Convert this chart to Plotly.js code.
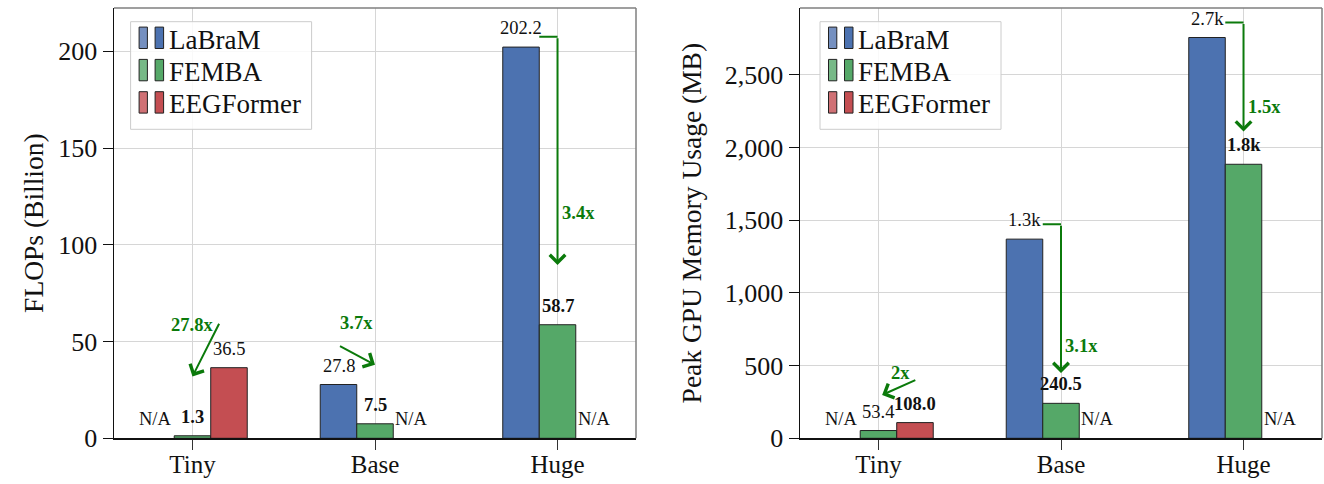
<!DOCTYPE html>
<html><head><meta charset="utf-8">
<script src="https://cdn.plot.ly/plotly-3.0.1.min.js"></script>
<style>html,body{margin:0;padding:0;background:#fff}#chart{width:1324px;height:484px}</style>
</head><body><div id="chart"></div>
<script>
// ---------------- data ----------------
const categories = ['Tiny', 'Base', 'Huge'];
const seriesNames = ['LaBraM', 'FEMBA', 'EEGFormer'];

const flopsLaBraM = [null, 27.8, 202.2];
const flopsFEMBA = [1.3, 7.5, 58.7];
const flopsEEGFormer = [36.5, null, null];

const memLaBraM = [null, 1370, 2757];
const memFEMBA = [53.4, 240.5, 1885];
const memEEGFormer = [108.0, null, null];

const flopsRatioText = ['27.8x', '3.7x', '3.4x'];
const memRatioText = ['2x', '3.1x', '1.5x'];

// ---------------- style / layout config ----------------
const W = 1324, H = 484;
const serif = 'Liberation Serif, Times New Roman, serif';
const colors = ['#4c72b0', '#55a868', '#c44e52'];
const lightColors = ['#7590c0', '#77b987', '#d07175'];
const green = '#0b7a0b';
const barWidthUnits = 0.2;
// which labels are bold: [series][category]
const boldFlops = [[0,0,0],[1,1,1],[0,0,0]];
const boldMem = [[0,0,0],[0,1,1],[1,0,0]];
// arrow geometry (x relative to category index, y in data units)
const flopsArrows = [
  {type:'straight', tail:[0.15, 60], head:[0.0, 32], label:[0.0, 58.6], anchor:'center'},
  {type:'straight', tail:[-0.2, 48], head:[0.0, 38], label:[-0.1, 59.7], anchor:'center'},
  {type:'elbow', start:[-0.1, 207.6], head:[0.0, 89.6], label:[0.0, 116.5], anchor:'left'}
];
const memArrows = [
  {type:'straight', tail:[0.21, 405], head:[0.02, 298], label:[0.12, 452], anchor:'center'},
  {type:'elbow', start:[-0.1, 1473], head:[0.0, 450], label:[0.0, 636], anchor:'left'},
  {type:'elbow', start:[-0.1, 2860], head:[0.0, 2110], label:[0.0, 2277], anchor:'left'}
];
const panel1 = [114, 636], panel2 = [800, 1322];
const plotTop = 8, plotBottom = 438.3;

function fmt(v) {
  if (v >= 1000) return (Math.floor(v / 100) / 10).toFixed(1) + 'k';
  return v.toFixed(1);
}

const xIdx = categories.map((c, i) => i);
const traces = [];
const annotations = [];
const shapes = [];
const px = x => x / W, py = y => 1 - y / H;

function addLegend(left) {
  const top = 21.7, bottom = 129.3, width = 181;
  shapes.push({type: 'rect', xref: 'paper', yref: 'paper',
    x0: px(left), x1: px(left + width), y0: py(bottom), y1: py(top),
    fillcolor: 'rgba(255,255,255,0.85)', line: {color: '#cccccc', width: 1}});
  seriesNames.forEach((name, j) => {
    const cy = 37.8 + j * 32.3;
    [[8.5, 16.8, lightColors[j]], [24.5, 33, colors[j]]].forEach(s => {
      shapes.push({type: 'rect', xref: 'paper', yref: 'paper',
        x0: px(left + s[0]), x1: px(left + s[1]), y0: py(cy + 10.7), y1: py(cy - 10.7),
        fillcolor: s[2], line: {color: '#222', width: 1}});
    });
    annotations.push({xref: 'paper', yref: 'paper', x: px(left + 36), y: py(cy + 2),
      xanchor: 'left', yanchor: 'middle', showarrow: false, text: name,
      font: {family: serif, size: 27, color: '#111'}});
  });
}

function addPanel(seriesVals, bold, arrows, ratioText, xa, ya) {
  seriesVals.forEach((vals, j) => {
    traces.push({
      type: 'bar', x: xIdx, y: vals, name: seriesNames[j],
      xaxis: xa, yaxis: ya, showlegend: false,
      marker: {color: colors[j], line: {color: '#222', width: 1}},
      hoverinfo: 'skip'
    });
    vals.forEach((v, i) => {
      const txt = v == null ? 'N/A' : fmt(v);
      annotations.push({
        xref: xa, yref: ya, x: i + (j - 1) * barWidthUnits, y: v == null ? 0 : v,
        text: bold[j][i] ? '<b>' + txt + '</b>' : txt,
        showarrow: false, xanchor: 'center', yanchor: 'bottom', yshift: 7,
        font: {family: serif, size: 18.5, color: '#111'}
      });
    });
  });
  arrows.forEach((a, i) => {
    if (a.type === 'straight') {
      annotations.push({
        xref: xa, yref: ya, axref: xa, ayref: ya,
        x: i + a.head[0], y: a.head[1], ax: i + a.tail[0], ay: a.tail[1],
        text: '', showarrow: true, arrowhead: 4, arrowsize: 1.5, arrowwidth: 2,
        arrowcolor: green
      });
    } else {
      shapes.push({type: 'line', xref: xa, yref: ya,
        x0: i + a.start[0], x1: i + a.head[0], y0: a.start[1], y1: a.start[1],
        line: {color: green, width: 2}});
      annotations.push({
        xref: xa, yref: ya, axref: xa, ayref: ya,
        x: i + a.head[0], y: a.head[1], ax: i + a.head[0], ay: a.start[1],
        text: '', showarrow: true, arrowhead: 4, arrowsize: 1.5, arrowwidth: 2,
        arrowcolor: green
      });
    }
    annotations.push({
      xref: xa, yref: ya, x: i + a.label[0], y: a.label[1],
      text: '<b>' + ratioText[i] + '</b>', showarrow: false,
      xanchor: a.anchor, yanchor: 'middle', xshift: a.anchor === 'left' ? 2 : 0,
      font: {family: serif, size: 18.5, color: green}
    });
  });
  // gray top/right frame
  const dx = xa + ' domain', dy = ya + ' domain';
  shapes.push({type: 'line', xref: dx, yref: dy, x0: 0, x1: 1, y0: 1, y1: 1, line: {color: '#7f7f7f', width: 1.5}});
  shapes.push({type: 'line', xref: dx, yref: dy, x0: 1, x1: 1, y0: 0, y1: 1, line: {color: '#7f7f7f', width: 1.5}});
}

addPanel([flopsLaBraM, flopsFEMBA, flopsEEGFormer], boldFlops, flopsArrows, flopsRatioText, 'x', 'y');
addPanel([memLaBraM, memFEMBA, memEEGFormer], boldMem, memArrows, memRatioText, 'x2', 'y2');
addLegend(panel1[0] + 16.6);
addLegend(panel2[0] + 20);

const ydom = [(H - plotBottom) / H, (H - plotTop) / H];
function xAxis(dom, anchor) {
  return {
    domain: [px(dom[0]), px(dom[1])], range: [-0.43, 2.43], tickvals: xIdx, ticktext: categories, anchor: anchor,
    showgrid: true, gridcolor: '#d6d6d6', gridwidth: 1, zeroline: false,
    showline: true, linecolor: '#111', linewidth: 1.5,
    ticks: 'outside', ticklen: 10, tickcolor: '#333', tickwidth: 1,
    ticklabelstandoff: -7,
    tickfont: {family: serif, size: 25, color: '#111'}, fixedrange: true
  };
}
function yAxis(range, dtick, title, anchor, fmtStr, standoff) {
  return {
    domain: ydom, range: range, dtick: dtick, tick0: 0, anchor: anchor,
    showgrid: true, gridcolor: '#d6d6d6', gridwidth: 1, zeroline: false,
    showline: true, linecolor: '#111', linewidth: 1.5,
    ticks: 'outside', ticklen: 10, tickcolor: '#111', tickwidth: 1,
    tickformat: fmtStr,
    tickfont: {family: serif, size: 26, color: '#111'},
    title: {text: title, font: {family: serif, size: 27.5, color: '#111'}, standoff: standoff},
    fixedrange: true
  };
}

const layout = {
  width: W, height: H, margin: {l: 0, r: 0, t: 0, b: 0},
  paper_bgcolor: '#fff', plot_bgcolor: '#fff',
  barmode: 'group', bargap: 0.4, bargroupgap: 0,
  xaxis: xAxis(panel1, 'y'),
  yaxis: yAxis([0, 222.4], 50, 'FLOPs (Billion)', 'x', 'd', 6),
  xaxis2: xAxis(panel2, 'y2'),
  yaxis2: yAxis([0, 2960], 500, 'Peak GPU Memory Usage (MB)', 'x2', ',d', 15),
  annotations: annotations, shapes: shapes, showlegend: false
};

Plotly.newPlot('chart', traces, layout, {staticPlot: true, displayModeBar: false});
</script></body></html>
